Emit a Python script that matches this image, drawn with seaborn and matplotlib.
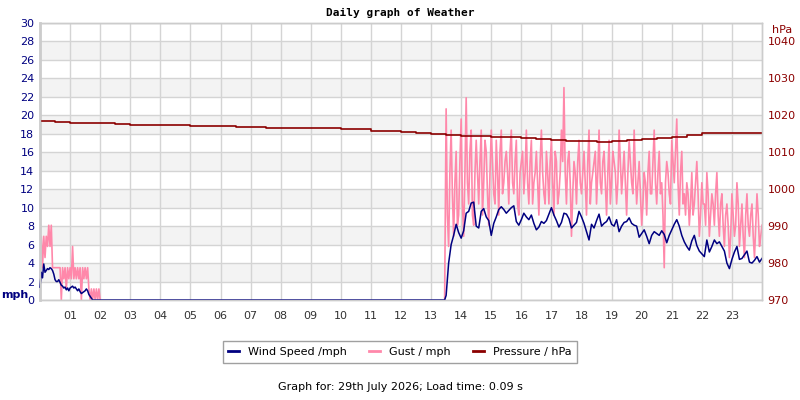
import numpy as np
import pandas as pd
import matplotlib
matplotlib.use("Agg")
import matplotlib.pyplot as plt
import seaborn as sns
from matplotlib.lines import Line2D

# Readings, hours since midnight (5-min grid in the windy spells)
wind_a = [1.4, 3.0, 2.4, 3.9, 3.0, 3.2, 3.4, 3.3, 3.5, 3.4, 3.2, 2.8, 2.2, 2.0, 2.0,
          2.2, 1.9, 1.6, 1.5, 1.3, 1.4, 1.1, 1.3, 1.0, 1.3, 1.4, 1.5, 1.3, 1.4, 1.2,
          1.0, 1.2, 0.9, 0.7, 0.8, 0.9, 1.0, 1.2, 1.0, 0.6, 0.4, 0.2, 0.0]
gust_a = [4.6, 6.9, 3.5, 6.9, 4.6, 6.9, 5.8, 8.1, 5.8, 8.1, 3.5, 3.5, 3.5, 3.5, 3.5,
          3.5, 3.5, 0.0, 3.5, 2.3, 3.5, 1.2, 3.5, 2.3, 3.5, 2.3, 5.8, 2.3, 3.5, 2.3,
          3.5, 2.3, 3.5, 0.0, 3.5, 2.3, 3.5, 2.3, 3.5, 1.2, 0.0, 1.2, 0.0, 1.2, 0.0,
          1.2, 0.0, 1.2, 0.0]
calm_hours = [1.75, 13.45]
wind_b = [0.5, 4.0, 6.0, 7.0, 8.2, 7.3, 6.7, 7.5, 9.4, 9.6, 10.5, 10.6, 8.0, 7.8, 9.6,
          9.9, 9.0, 8.6, 7.0, 8.3, 9.0, 9.8, 10.1, 9.8, 9.4, 9.7, 10.0, 10.2, 8.5, 8.1,
          8.7, 9.4, 9.0, 8.7, 9.2, 8.3, 7.6, 7.9, 8.5, 8.3, 8.6, 9.3, 10.0, 9.2, 8.6,
          7.9, 8.4, 9.4, 9.3, 8.8, 7.8, 8.1, 8.4, 9.6, 9.0, 8.3, 7.4, 6.5, 8.2, 7.8,
          8.6, 9.3, 8.0, 8.3, 8.5, 9.0, 8.2, 8.0, 8.7, 7.4, 8.0, 8.4, 8.5, 8.9, 8.3,
          8.1, 8.0, 6.8, 7.2, 7.6, 6.9, 6.1, 7.0, 7.4, 7.2, 7.0, 7.5, 7.1, 6.2, 7.0,
          7.6, 8.2, 8.7, 8.0, 7.0, 6.3, 5.8, 5.4, 6.4, 7.0, 5.9, 5.3, 5.0, 4.7, 6.5,
          5.2, 5.8, 6.5, 6.1, 6.3, 5.8, 5.3, 4.0, 3.4, 4.4, 5.2, 5.8, 4.4, 4.5, 4.9,
          5.3, 4.1, 4.0, 4.3, 4.7, 4.1, 4.5]
gust_b = [20.7, 5.8, 18.4, 6.9, 16.1, 9.2, 19.6, 6.9, 21.9, 10.4, 18.4, 8.1, 17.3, 10.4, 18.4,
          12.7, 16.1, 8.1, 18.4, 11.5, 17.3, 9.2, 18.4, 12.7, 16.1, 10.4, 18.4, 11.5, 17.3, 9.2,
          15.0, 11.5, 18.4, 10.4, 17.3, 12.7, 16.1, 9.2, 18.4, 11.5, 16.1, 10.4, 17.3, 9.2, 15.0,
          11.5, 18.4, 23.0, 10.4, 16.1, 6.9, 15.0, 10.4, 17.3, 11.5, 16.1, 9.2, 18.4, 12.7, 15.0,
          10.4, 18.4, 11.5, 16.1, 9.2, 17.3, 12.7, 15.0, 10.4, 18.4, 11.5, 16.1, 9.2, 17.3, 12.7,
          18.4, 10.4, 15.0, 8.1, 13.8, 9.2, 16.1, 11.5, 18.4, 10.4, 16.1, 12.7, 3.5, 15.0, 11.5,
          17.3, 12.7, 19.6, 9.2, 16.1, 11.5, 12.7, 8.1, 13.8, 10.4, 15.0, 6.9, 12.7, 10.4, 13.8,
          6.9, 11.5, 8.1, 13.8, 6.9, 11.5, 5.8, 10.4, 4.6, 11.5, 6.9, 12.7, 5.8, 10.4, 4.6,
          11.5, 6.9, 10.4, 4.6, 11.5, 5.8, 8.1]
# gust readings taken half-way between the ones above
gust_b_mid = [9.2, 13.8, 11.5, 12.7, 8.1, 15.0, 10.4, 13.8, 12.7, 16.1, 9.2, 13.8,
              13.8, 15.0, 9.2, 17.3, 11.5, 13.8, 15.0, 10.4, 13.8, 16.1, 11.5, 15.0,
              13.8, 16.1, 12.7, 15.0, 10.4, 13.8, 16.1, 13.8, 12.7, 15.0, 10.4, 13.8,
              12.7, 15.0, 13.8, 10.4, 13.8, 15.0, 12.7, 16.1, 10.4, 13.8, 15.0, 13.8,
              15.0, 12.7, 11.5, 13.8, 15.0, 12.7, 13.8, 12.7, 15.0, 10.4, 13.8, 16.1,
              13.8, 12.7, 15.0, 12.7, 13.8, 10.4, 16.1, 13.8, 12.7, 15.0, 13.8, 12.7,
              13.8, 15.0, 11.5, 13.8, 12.7, 11.5, 10.4, 12.7, 13.8, 11.5, 15.0, 12.7,
              13.8, 11.5, 9.2, 12.7, 13.8, 10.4, 15.0, 16.1, 12.7, 13.8, 10.4, 9.2,
              11.5, 10.4, 9.2, 12.7, 11.5, 9.2, 10.4, 8.1, 11.5, 9.2, 10.4, 11.5,
              9.2, 10.4, 8.1, 9.2, 8.1, 6.9, 9.2, 8.1, 10.4, 8.1, 6.9, 9.2,
              8.1, 9.2, 6.9, 8.1, 9.2, 6.9]
pressure = [1018.5, 1018.2, 1018.0, 1018.0, 1017.8, 1017.6, 1017.4, 1017.4, 1017.4, 1017.3,
            1017.2, 1017.2, 1017.1, 1016.8, 1016.8, 1016.7, 1016.6, 1016.6, 1016.5, 1016.5,
            1016.4, 1016.2, 1015.7, 1015.7, 1015.5, 1015.1, 1015.0, 1014.6, 1014.5, 1014.4,
            1014.2, 1014.0, 1013.9, 1013.7, 1013.4, 1013.0, 1013.0, 1012.9, 1013.1, 1013.3,
            1013.6, 1013.9, 1014.2, 1014.6, 1015.1, 1015.2, 1015.2, 1015.3, 1015.3]

hours_a = np.arange(len(gust_a)) / 24
hours_b = 13.5 + np.arange(len(wind_b)) / 12
hours_b_mid = 13.5 + (np.arange(len(gust_b_mid)) + 0.5) / 12
hours_p = np.arange(len(pressure)) / 2
hour_labels = [f"{h:02d}" for h in range(1, 24)]

wind_t = np.concatenate([hours_a[:len(wind_a)], calm_hours, hours_b])
wind_v = np.concatenate([wind_a, [0, 0], wind_b])
gust_bt = np.concatenate([calm_hours[1:], hours_b, hours_b_mid])
gust_bv = np.concatenate([[0], gust_b, gust_b_mid])

navy = "#000080"
pink = "#ff88aa"
darkred = "#8b0000"

fig = plt.figure(figsize=(8, 4), dpi=100)
ax = fig.add_axes([0.05, 0.25, 0.9025, 0.6925])
ax2 = ax.twinx()

# grey bands + grid
for lo in range(2, 28, 4):
    ax.axhspan(lo, lo + 2, color="#f3f3f3", zorder=0, lw=0)
for v in range(0, 31, 2):
    ax.axhline(v, color="#d4d4d4", lw=1, zorder=0.5)
for h in range(1, 24):
    ax.axvline(h, color="#d4d4d4", lw=1, zorder=0.5)

sns.lineplot(x=hours_a, y=gust_a, ax=ax, color=pink, lw=1.2, zorder=2)
sns.lineplot(x=gust_bt, y=gust_bv, ax=ax, color=pink, lw=1.2, zorder=2)
sns.lineplot(x=wind_t, y=wind_v, ax=ax, color=navy, lw=1.1, zorder=3, clip_on=False)
sns.lineplot(x=hours_p, y=pressure, ax=ax2, color=darkred, lw=1.2, drawstyle="steps-post")

ax.set_xlim(0, 24)
ax.set_ylim(0, 30)
ax2.set_ylim(970, 1045)
ax.set_xticks(range(1, 24))
ax.set_xticklabels(hour_labels)
ax.set_yticks(range(0, 31, 2))
ax2.set_yticks(range(970, 1041, 10))
ax.tick_params(axis="x", length=0, pad=8, labelsize=8, labelcolor="#333333")
ax.tick_params(axis="y", length=0, pad=4, labelsize=8, labelcolor=navy)
ax2.tick_params(axis="y", length=0, pad=4, labelsize=8, labelcolor=darkred)
ax.set_xlabel("")
ax.set_ylabel("")
ax2.set_ylabel("")
for a in (ax, ax2):
    for s in a.spines.values():
        s.set_color("#cccccc")
        s.set_linewidth(1)
ax.spines["left"].set_linewidth(2)

fig.text(0.5, 0.967, "Daily graph of Weather", ha="center", va="center",
         fontsize=8, fontweight="bold", family="DejaVu Sans Mono")
fig.text(0.002, 0.262, "mph", ha="left", va="center", fontsize=8,
         fontweight="bold", color=navy)
fig.text(0.978, 0.925, "hPa", ha="center", va="center", fontsize=8, color=darkred)

handles = [Line2D([], [], color=navy, lw=2), Line2D([], [], color=pink, lw=2),
           Line2D([], [], color=darkred, lw=2)]
leg = fig.legend(handles, ["Wind Speed /mph", "Gust / mph", "Pressure / hPa"],
                 loc="center", bbox_to_anchor=(0.5, 0.12), ncol=3, fontsize=8,
                 frameon=True, fancybox=False, edgecolor="#888888",
                 handlelength=1.0, columnspacing=2.0, borderpad=0.5)
leg.get_frame().set_linewidth(1)

fig.text(0.5, 0.032, "Graph for: 29th July 2026; Load time: 0.09 s", ha="center",
         va="center", fontsize=8)

fig.savefig("out.png", dpi=100)
